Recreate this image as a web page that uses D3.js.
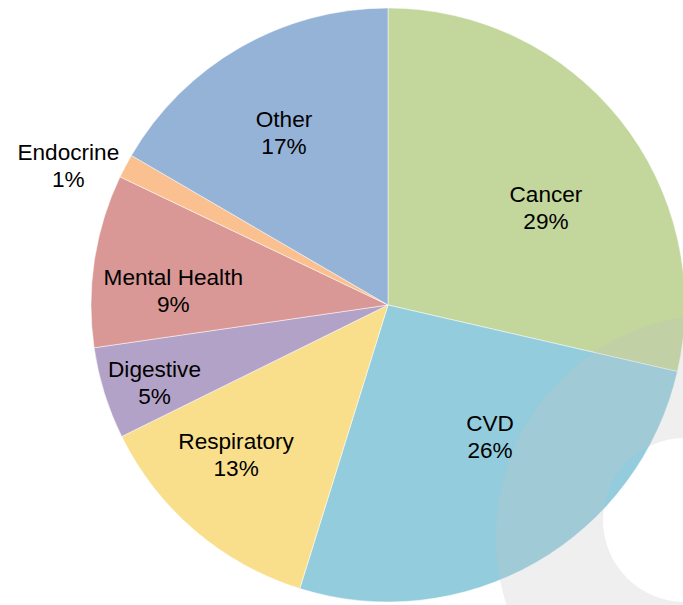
<!DOCTYPE html>
<html>
<head>
<meta charset="utf-8">
<script src="https://cdn.jsdelivr.net/npm/d3@7"></script>
<style>
  body { margin: 0; background: #fff; }
  svg text { font-family: "Liberation Sans", Arial, sans-serif; font-size: 22.6px; fill: #000; }
</style>
</head>
<body>
<svg width="683" height="605"></svg>
<script>
// data (share of total, %)
var categories = ["Cancer", "CVD", "Respiratory", "Digestive", "Mental Health", "Endocrine", "Other"];
var shares = [28.6, 26.2, 12.9, 5.0, 9.4, 1.3, 16.6];
var colors = ["#C3D69B", "#93CDDD", "#F9DF8B", "#B3A2C7", "#D99795", "#FAC090", "#95B3D7"];

var svg = d3.select("svg");
var width = +svg.attr("width");
var height = +svg.attr("height");
var cx = 388, cy = 305, radius = 297;

// label layout: radius from centre, plus small nudges (Excel-like placement)
var labelRadius = 200;
var outsideRadius = radius + 50;
var labelNudge = {
  "Cancer": [1.5, 27.5],
  "CVD": [2.4, -41.4],
  "Respiratory": [-22, -2],
  "Digestive": [-42.5, 18.6],
  "Mental Health": [-17, 16],
  "Endocrine": [-13, 23],
  "Other": [-4.4, 1.4]
};
var outsideLabels = ["Endocrine"];

var data = categories.map(function(c, i) { return {name: c, value: shares[i], color: colors[i]}; });

var pie = d3.pie()
    .sort(null)
    .value(function(d) { return d.value; });

var arc = d3.arc().innerRadius(0).outerRadius(radius);
var labelArc = d3.arc().innerRadius(labelRadius).outerRadius(labelRadius);
var outArc = d3.arc().innerRadius(outsideRadius).outerRadius(outsideRadius);

var g = svg.append("g")
    .attr("transform", "translate(" + cx + "," + cy + ")");

var arcs = pie(data);

g.selectAll("path.slice")
    .data(arcs)
  .enter().append("path")
    .attr("class", "slice")
    .attr("d", arc)
    .style("fill", function(d) { return d.data.color; })
    .style("stroke", "#fff")
    .style("stroke-width", 0.5);

var total = d3.sum(shares);
var lineGap = 27;

var label = g.selectAll("text.label")
    .data(arcs)
  .enter().append("text")
    .attr("class", "label")
    .attr("text-anchor", "middle")
    .attr("transform", function(d) {
      var name = d.data.name;
      var p = (outsideLabels.indexOf(name) >= 0 ? outArc : labelArc).centroid(d);
      var n = labelNudge[name] || [0, 0];
      return "translate(" + (p[0] + n[0]) + "," + (p[1] + n[1]) + ")";
    });

label.append("tspan")
    .attr("x", 0)
    .attr("y", -5.6)
    .text(function(d) { return d.data.name; });
label.append("tspan")
    .attr("x", 0)
    .attr("y", -5.6 + lineGap)
    .text(function(d) { return Math.round(d.data.value / total * 100) + "%"; });

// translucent grey ring in the lower right corner (watermark shape)
var ring = d3.path();
ring.moveTo(718.6 + 222.8, 536.9);
ring.arc(718.6, 536.9, 222.8, 0, Math.PI * 2);
ring.moveTo(685 + 82, 520);
ring.arc(685, 520, 82, 0, Math.PI * 2);

svg.append("path")
    .attr("d", ring.toString())
    .attr("fill-rule", "evenodd")
    .style("fill", "rgb(193,193,193)")
    .style("fill-opacity", 0.26);
</script>
</body>
</html>
